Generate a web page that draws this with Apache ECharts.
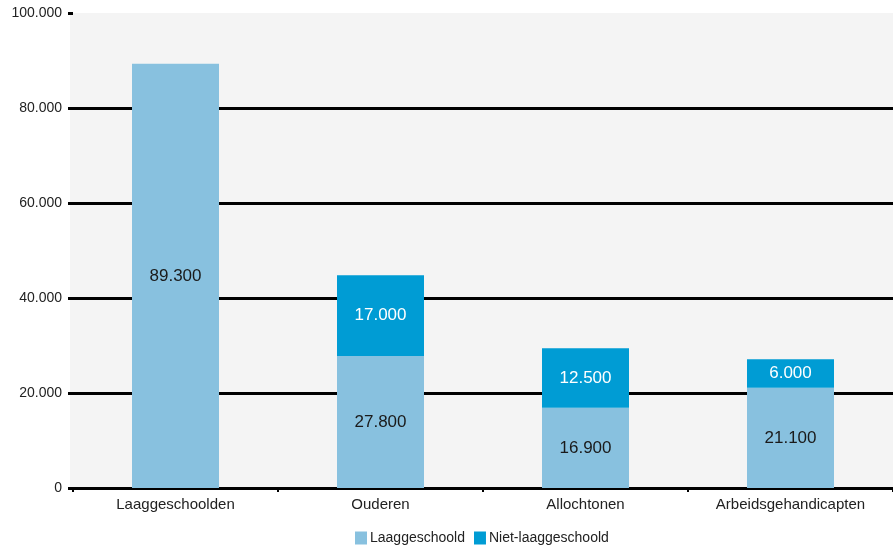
<!DOCTYPE html>
<html><head><meta charset="utf-8">
<script src="https://cdn.jsdelivr.net/npm/echarts@6/dist/echarts.min.js"></script>
<style>html,body{margin:0;padding:0;background:#fff}#c{width:893px;height:546px}</style>
</head><body><div id="c"></div>
<script>
const categories = ['Laaggeschoolden', 'Ouderen', 'Allochtonen', 'Arbeidsgehandicapten'];
const seriesNames = ['Laaggeschoold', 'Niet-laaggeschoold'];
const laaggeschoold = [89300, 27800, 16900, 21100];
const nietLaaggeschoold = [null, 17000, 12500, 6000];
const yTicks = [0, 20000, 40000, 60000, 80000, 100000];

function fmt(v) { return String(v).replace(/\B(?=(\d{3})+(?!\d))/g, '.'); }

const chart = echarts.init(document.getElementById('c'), null, {renderer: 'canvas'});
const font = 'Liberation Sans';
chart.setOption({
  animation: false,
  grid: [
    {left: 70, top: 13, width: 830, height: 475, show: true, backgroundColor: '#f4f4f4', borderWidth: 0, z: 0},
    {left: 73, top: 13, width: 828, height: 475}
  ],
  legend: {
    left: 350, top: 526, itemWidth: 12, itemHeight: 13, itemGap: 9,
    icon: 'rect',
    textStyle: {fontFamily: font, fontSize: 14, color: '#222', padding: [0, 0, 0, -2]},
    data: seriesNames
  },
  xAxis: [
    {gridIndex: 0, type: 'category', data: categories, show: false},
    {
      gridIndex: 1, type: 'category', data: categories,
      axisLine: {show: true, lineStyle: {color: '#000', width: 3}},
      axisTick: {show: true, length: 4, lineStyle: {color: '#000', width: 2}},
      axisLabel: {fontFamily: font, fontSize: 15, color: '#222', margin: 9}
    }
  ],
  yAxis: [
    {gridIndex: 0, type: 'value', min: 0, max: 100000, interval: 20000, show: false, splitLine: {show: false}},
    {
      gridIndex: 1, type: 'value', min: 0, max: 100000, interval: 20000,
      axisLine: {show: false},
      axisTick: {show: true, inside: false, length: 5, lineStyle: {color: '#000', width: 3}},
      splitLine: {show: true, showMaxLine: false, lineStyle: {color: '#000', width: 3}},
      axisLabel: {fontFamily: font, fontSize: 14, color: '#222', margin: 11, formatter: v => fmt(v)}
    }
  ],
  series: [
    {
      name: seriesNames[0], type: 'bar', stack: 's', data: laaggeschoold, barWidth: 87,
      xAxisIndex: 1, yAxisIndex: 1,
      itemStyle: {color: '#88c1df'},
      label: {show: true, position: 'inside', fontFamily: font, fontSize: 17, color: '#1a1a1a', formatter: p => fmt(p.value)}
    },
    {
      name: seriesNames[1], type: 'bar', stack: 's', data: nietLaaggeschoold, barWidth: 87,
      xAxisIndex: 1, yAxisIndex: 1,
      itemStyle: {color: '#009cd4'},
      label: {show: true, position: 'inside', fontFamily: font, fontSize: 17, color: '#fff', formatter: p => fmt(p.value)}
    }
  ]
});
</script></body></html>
